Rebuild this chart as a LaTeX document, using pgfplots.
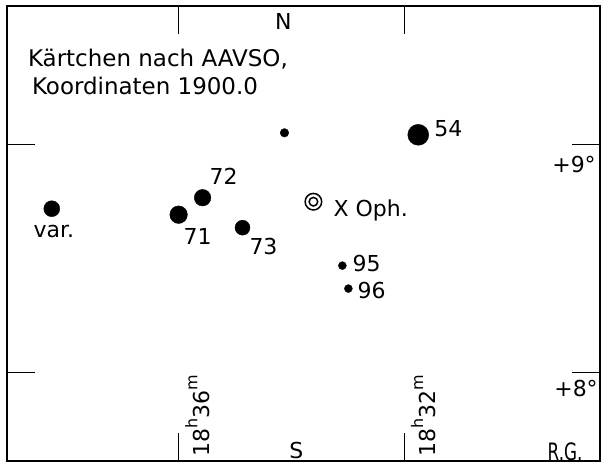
\documentclass[border=0pt]{standalone}
\usepackage{fontspec}
\setmainfont{DejaVu Sans}
\usepackage{pgfplots}
\pgfplotsset{compat=1.18}
\tikzset{lbl/.style={font=\fontsize{22}{26}\selectfont, inner sep=0pt}}
\begin{document}
\begin{tikzpicture}
\begin{axis}[
  x=1pt, y=1pt, y dir=reverse,
  xmin=6, xmax=600, ymin=6, ymax=462,
  axis line style={line width=1.8pt, black},
  xtick={178,404}, xticklabels={},
  ytick={145,373}, yticklabels={},
  tick align=inside, major tick length=28pt,
  tick style={line width=1pt, black},
  clip=false,
]
% page extent (0..602 x 0..464)
\path (axis cs:0,0) (axis cs:602,464);
% stars
\addplot[only marks, mark=*, mark size=8pt, black] coordinates {(51,209)};
\addplot[only marks, mark=*, mark size=8.8pt, black] coordinates {(178,215)};
\addplot[only marks, mark=*, mark size=8.3pt, black] coordinates {(202,198)};
\addplot[only marks, mark=*, mark size=7.5pt, black] coordinates {(242,228)};
\addplot[only marks, mark=*, mark size=4.3pt, black] coordinates {(284,133)};
\addplot[only marks, mark=*, mark size=10.5pt, black] coordinates {(418,135)};
\addplot[only marks, mark=*, mark size=4pt, black] coordinates {(342,266) (348,289)};
% X Oph double circle
\addplot[only marks, mark=o, mark size=8.3pt, mark options={line width=1.5pt}, black] coordinates {(313,202)};
\addplot[only marks, mark=o, mark size=4.3pt, mark options={line width=1.5pt}, black] coordinates {(313,202)};
% labels
\node[lbl, font=\fontsize{23}{27}\selectfont, anchor=base west] at (axis cs:27,67) {Kärtchen nach AAVSO,};
\node[lbl, font=\fontsize{23}{27}\selectfont, anchor=base west] at (axis cs:31,95) {Koordinaten 1900.0};
\node[lbl] at (axis cs:283,22) {N};
\node[lbl] at (axis cs:296,451) {S};
\node[lbl] at (axis cs:565,452) {\fontsize{24}{28}\selectfont\scalebox{0.7}[1]{R.G.}};
\node[lbl, anchor=west] at (axis cs:434,129) {54};
\node[lbl] at (axis cs:223,177) {72};
\node[lbl] at (axis cs:197,237) {71};
\node[lbl] at (axis cs:263,247) {73};
\node[lbl] at (axis cs:53,232) {var.};
\node[lbl, anchor=west] at (axis cs:333,211) {X Oph.};
\node[lbl, anchor=west] at (axis cs:352,264) {95};
\node[lbl, anchor=west] at (axis cs:357,291) {96};
\node[lbl] at (axis cs:574,165) {+9°};
\node[lbl] at (axis cs:576,389) {+8°};
\node[lbl, rotate=90, anchor=west] at (axis cs:197,457) {18\raisebox{0.55em}{\fontsize{16}{18}\selectfont h}36\raisebox{0.55em}{\fontsize{16}{18}\selectfont m}};
\node[lbl, rotate=90, anchor=west] at (axis cs:423,457) {18\raisebox{0.55em}{\fontsize{16}{18}\selectfont h}32\raisebox{0.55em}{\fontsize{16}{18}\selectfont m}};
\end{axis}
\end{tikzpicture}
\end{document}
